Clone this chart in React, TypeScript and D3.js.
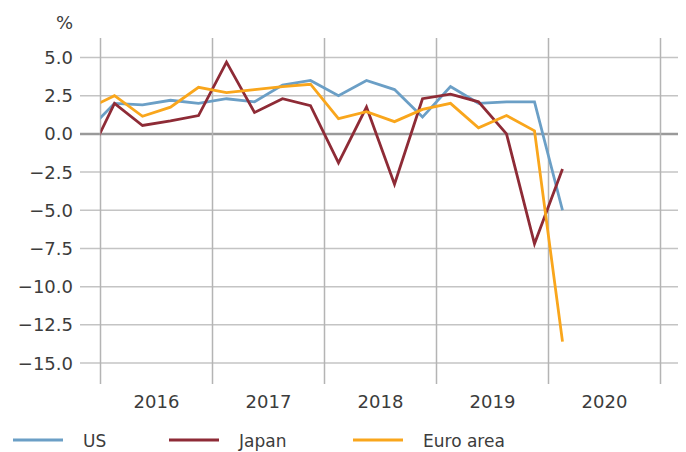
import React from "react";
import * as d3 from "d3";

// Quarterly values, 2015Q4 .. 2020Q1 (first point lies left of the plot and is clipped)
const quarters = [-1, 0, 1, 2, 3, 4, 5, 6, 7, 8, 9, 10, 11, 12, 13, 14, 15, 16];
const usValues = [0.1, 2.0, 1.9, 2.2, 2.0, 2.3, 2.1, 3.2, 3.5, 2.5, 3.5, 2.9, 1.1, 3.1, 2.0, 2.1, 2.1, -5.0];
const japanValues = [-1.8, 2.0, 0.55, 0.85, 1.2, 4.7, 1.4, 2.3, 1.85, -1.9, 1.75, -3.3, 2.3, 2.6, 2.1, 0.0, -7.2, -2.3];
const euroValues = [1.6, 2.5, 1.15, 1.75, 3.05, 2.7, 2.9, 3.1, 3.25, 1.0, 1.45, 0.8, 1.6, 2.0, 0.4, 1.2, 0.2, -13.6];

const years = ["2016", "2017", "2018", "2019", "2020"];
const yTicks = [5, 2.5, 0, -2.5, -5, -7.5, -10, -12.5, -15];

const seriesNames = ["US", "Japan", "Euro area"];
const seriesColors = ["#6b9fc6", "#8e2b36", "#f9a61c"];

const FONT = "'DejaVu Sans', sans-serif";
const TEXT = "#3c3c3c";

export default function App() {
  const W = 686, H = 452;
  const x = d3.scaleLinear().domain([0, 20]).range([100.5, 660.5]);
  const y = d3.scaleLinear().domain([-15, 5]).range([363, 57.5]);
  const gridTop = 38, gridBottom = 384, gridLeft = 80, gridRight = 678;

  const allSeries = [usValues, japanValues, euroValues];
  const line = d3
    .line<number>()
    .x((_, i) => x(quarters[i] + 0.5))
    .y((d) => y(d));

  const fmt = (v: number) => {
    const s = d3.format(".1f")(Math.abs(v));
    return v < 0 ? "\u2212" + s : s;
  };

  const legendX = [13, 169, 353];

  return (
    <svg width={W} height={H} style={{ position: "absolute", left: 0, top: 0 }}>
      <defs>
        <clipPath id="plotClip">
          <rect x={x(0)} y={0} width={x(20) - x(0)} height={H} />
        </clipPath>
      </defs>
      {/* horizontal grid */}
      {yTicks.map((t) => (
        <line
          key={"h" + t}
          x1={gridLeft}
          x2={gridRight}
          y1={y(t)}
          y2={y(t)}
          stroke={t === 0 ? "#9a9a9a" : "#c4c4c4"}
          strokeWidth={t === 0 ? 2.5 : 1.5}
        />
      ))}
      {/* vertical grid */}
      {d3.range(0, 21, 4).map((q) => (
        <line
          key={"v" + q}
          x1={x(q)}
          x2={x(q)}
          y1={gridTop}
          y2={gridBottom}
          stroke="#b4b4b4"
          strokeWidth={1.5}
        />
      ))}
      {/* y labels */}
      {yTicks.map((t) => (
        <text
          key={"yl" + t}
          x={73}
          y={y(t) + 6.5}
          textAnchor="end"
          fontFamily={FONT}
          fontSize={18}
          fill={TEXT}
        >
          {fmt(t)}
        </text>
      ))}
      <text x={73} y={29} textAnchor="end" fontFamily={FONT} fontSize={18} fill={TEXT}>
        %
      </text>
      {/* x labels */}
      {years.map((yr, i) => (
        <text
          key={yr}
          x={x(i * 4 + 2)}
          y={408}
          textAnchor="middle"
          fontFamily={FONT}
          fontSize={18}
          fill={TEXT}
        >
          {yr}
        </text>
      ))}
      {/* lines */}
      <g clipPath="url(#plotClip)">
        {allSeries.map((vals, si) => (
          <path
            key={seriesNames[si]}
            d={line(vals) || ""}
            fill="none"
            stroke={seriesColors[si]}
            strokeWidth={2.8}
            strokeLinejoin="miter"
          />
        ))}
      </g>
      {/* legend */}
      {seriesNames.map((n, i) => (
        <g key={"lg" + n}>
          <line
            x1={legendX[i]}
            x2={legendX[i] + 50}
            y1={440}
            y2={440}
            stroke={seriesColors[i]}
            strokeWidth={3}
          />
          <text x={legendX[i] + 70} y={447} fontFamily={FONT} fontSize={17} fill={TEXT}>
            {n}
          </text>
        </g>
      ))}
    </svg>
  );
}
